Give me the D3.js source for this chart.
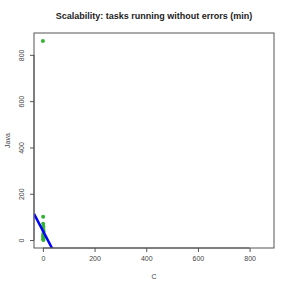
<!DOCTYPE html>
<html>
<head>
<meta charset="utf-8">
<script src="https://cdn.jsdelivr.net/npm/d3@7"></script>
<style>
  body { margin: 0; background: #fff; }
  text { font-family: "Liberation Sans", Arial, sans-serif; }
</style>
</head>
<body>
<div class="canvas"></div>
<script>
// values
const cVals = [0, 1, 1, 2, 2, 3, 1, 0.5, 2, 1, 2]
const javaVals = [860, 101, 70, 58, 46, 36, 26, 16, 8, 3, 0]
const xTicks = [0, 200, 400, 600, 800]
const yTicks = [0, 200, 400, 600, 800]
const fit = {intercept: 40, slope: -2.13}
const lim = [0, 860]

const dims = {width: 291, height: 291}
const box = {left: 34, right: 274, top: 33, bottom: 248}

const svg = d3.select('.canvas').append('svg')
  .attr('width', dims.width)
  .attr('height', dims.height)

// R pads the range by 4% on each side
const pad = (lim[1] - lim[0]) * 0.04
const x = d3.scaleLinear().domain([lim[0] - pad, lim[1] + pad]).range([box.left, box.right])
const y = d3.scaleLinear().domain([lim[0] - pad, lim[1] + pad]).range([box.bottom, box.top])

// clip for the fitted line
svg.append('clipPath').attr('id', 'plotclip')
  .append('rect')
  .attr('x', box.left).attr('y', box.top)
  .attr('width', box.right - box.left).attr('height', box.bottom - box.top)

// points
svg.append('g').selectAll('circle')
  .data(cVals.map((c, i) => ({c: c, j: javaVals[i]})))
  .enter().append('circle')
  .attr('cx', d => x(d.c))
  .attr('cy', d => y(d.j))
  .attr('r', 2)
  .attr('fill', '#33b333')

// regression line
const xd = x.domain()
svg.append('line')
  .attr('clip-path', 'url(#plotclip)')
  .attr('x1', x(xd[0])).attr('y1', y(fit.intercept + fit.slope * xd[0]))
  .attr('x2', x(xd[1])).attr('y2', y(fit.intercept + fit.slope * xd[1]))
  .attr('stroke', '#0000ff')
  .attr('stroke-width', 2.5)

// box
svg.append('rect')
  .attr('x', box.left).attr('y', box.top)
  .attr('width', box.right - box.left).attr('height', box.bottom - box.top)
  .attr('fill', 'none')
  .attr('stroke', '#555')
  .attr('stroke-width', 1)

// axes
const xAxis = svg.append('g')
  .attr('transform', `translate(0,${box.bottom})`)
  .call(d3.axisBottom(x).tickValues(xTicks).tickSize(4).tickPadding(4))
const yAxis = svg.append('g')
  .attr('transform', `translate(${box.left},0)`)
  .call(d3.axisLeft(y).tickValues(yTicks).tickSize(4).tickPadding(3))

;[xAxis, yAxis].forEach(a => {
  a.select('.domain').attr('stroke', '#555')
  a.selectAll('.tick line').attr('stroke', '#555')
  a.selectAll('.tick text')
    .attr('fill', '#444')
    .style('font-size', '7px')
    .style('font-family', '"Liberation Sans", Arial, sans-serif')
})
xAxis.select('.domain').attr('d', `M${x(xTicks[0])},0H${x(xTicks[xTicks.length - 1])}`)
yAxis.select('.domain').attr('d', `M0,${y(yTicks[0])}V${y(yTicks[yTicks.length - 1])}`)

// y tick labels are parallel to the axis
yAxis.selectAll('.tick text')
  .attr('text-anchor', 'middle')
  .attr('x', 0).attr('dy', 0)
  .attr('transform', 'translate(-10,0) rotate(-90)')

// title and axis labels
svg.append('text')
  .attr('x', (box.left + box.right) / 2).attr('y', 19)
  .attr('text-anchor', 'middle')
  .attr('font-weight', 'bold')
  .style('font-size', '9px')
  .attr('fill', '#222')
  .text('Scalability: tasks running without errors (min)')

svg.append('text')
  .attr('x', (box.left + box.right) / 2).attr('y', 279)
  .attr('text-anchor', 'middle')
  .style('font-size', '7px')
  .attr('fill', '#444')
  .text('C')

svg.append('text')
  .attr('transform', `translate(10,${(box.top + box.bottom) / 2}) rotate(-90)`)
  .attr('text-anchor', 'middle')
  .style('font-size', '7px')
  .attr('fill', '#444')
  .text('Java')
</script>
</body>
</html>
